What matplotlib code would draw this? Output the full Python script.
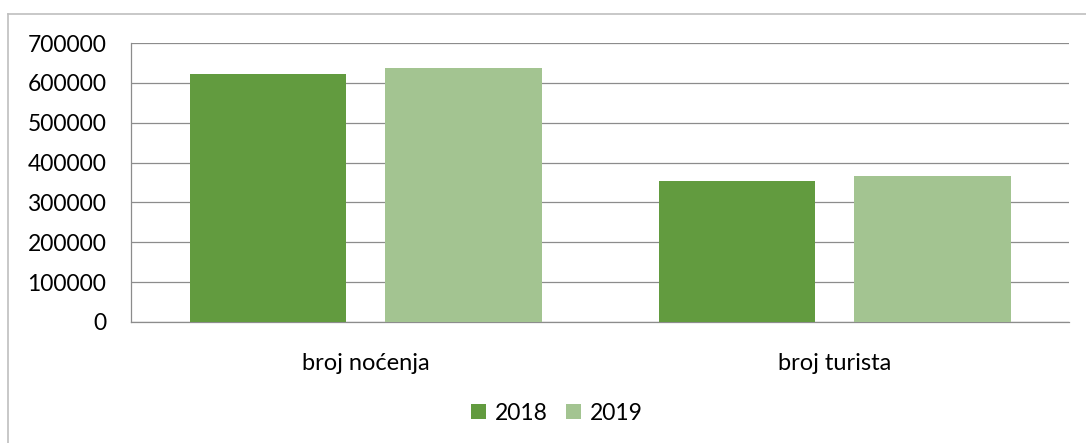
import numpy as np
import matplotlib.pyplot as plt
from matplotlib.lines import Line2D

categories = ['broj noćenja', 'broj turista']
years = ['2018', '2019']
values_2018 = [621000, 355000]
values_2019 = [637000, 366000]
colors = ['#629B3F', '#A3C491']

plt.rcParams['font.family'] = ['Lato', 'DejaVu Sans']

fig = plt.figure(figsize=(10.86, 4.43), dpi=100)
ax = fig.add_axes([131.3 / 1086, 1 - 322 / 443, 938 / 1086, 279 / 443])

x_pos = np.arange(len(categories))
width = 0.333
offset = 0.2085

ax.bar(x_pos - offset, values_2018, width, color=colors[0], label=years[0], zorder=3)
ax.bar(x_pos + offset, values_2019, width, color=colors[1], label=years[1], zorder=3)

ax.set_xlim(-0.5, 1.5)
ax.set_ylim(0, 700000)
ax.set_yticks(np.arange(0, 700001, 100000))
ax.set_yticklabels([str(v) for v in range(0, 700001, 100000)])
ax.set_xticks(x_pos)
ax.set_xticklabels(categories)

ax.grid(axis='y', color='#8C8C8C', linewidth=0.9, zorder=0)
for s in ['top', 'right']:
    ax.spines[s].set_visible(False)
ax.spines['left'].set_color('#8C8C8C')
ax.spines['bottom'].set_color('#8C8C8C')
ax.spines['left'].set_linewidth(0.9)
ax.spines['bottom'].set_linewidth(0.9)
ax.tick_params(axis='y', length=0, pad=18, labelsize=16.5)
ax.tick_params(axis='x', length=0, pad=22, labelsize=17)

fig.legend(loc='center', bbox_to_anchor=(557 / 1086, 1 - 413 / 443), ncol=2,
           frameon=False, fontsize=16.5, handlelength=0.65, handleheight=0.65,
           handletextpad=0.4, columnspacing=0.8)

# outer chart frame (left and top edges visible)
fig.add_artist(Line2D([7.5 / 1086, 7.5 / 1086], [0, 1 - 13.5 / 443], color='#BFBFBF', lw=1.2))
fig.add_artist(Line2D([7.5 / 1086, 1], [1 - 13.5 / 443, 1 - 13.5 / 443], color='#BFBFBF', lw=1.2))

plt.savefig('out.png', dpi=100)
